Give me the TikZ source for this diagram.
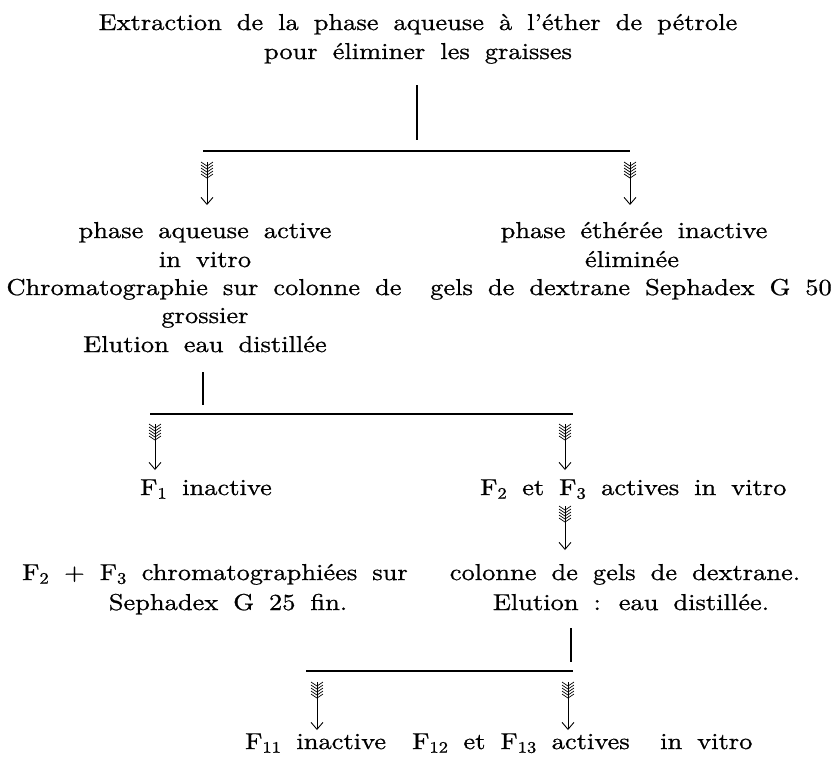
\documentclass[tikz,border=0pt]{standalone}
\usepackage{fontspec}
\setmainfont{lmroman10-regular.otf}[FakeStretch=1.15, WordSpace=1.7, FakeBold=0.8]
\usetikzlibrary{arrows.meta}
\tikzset{
  txt/.style={inner sep=0pt, font=\fontsize{23}{28}\selectfont},
  rulel/.style={line width=1.5pt},
  featherarrow/.style={line width=0.9pt, -{Straight Barb[length=7pt,width=12pt,line width=0.9pt]}},
  fletch/.pic={\foreach \k in {0,...,4}{\draw[line width=0.7pt] (-6,{\k*3}) -- (0,{\k*3+4}) -- (6,{\k*3});}}
}
\newcommand\farrow[2]{\pic at (#1) {fletch}; \draw[featherarrow] (#1) -- (#2);}
\begin{document}
\begin{tikzpicture}[x=1pt,y=-1pt]
\useasboundingbox (0,0) rectangle (834,756);
% texts
\node[txt, anchor=base] (t1) at (418,30) {Extraction de la phase aqueuse à l’éther de pétrole};
\node[txt, anchor=base] (t2) at (418,59) {pour éliminer les graisses};
\node[txt, anchor=base] (a1) at (205,238) {phase aqueuse active};
\node[txt, anchor=base] (a2) at (205,267) {in vitro};
\node[txt, anchor=base] (a3) at (204,295) {Chromatographie sur colonne de};
\node[txt, anchor=base] (a4) at (205,323) {grossier};
\node[txt, anchor=base] (a5) at (205,352) {Elution eau distillée};
\node[txt, anchor=base] (b1) at (634,238) {phase éthérée inactive};
\node[txt, anchor=base] (b2) at (632,267) {éliminée};
\node[txt, anchor=base] (b3) at (631,295) {gels de dextrane Sephadex G 50};
\node[txt, anchor=base west] (c1) at (140,495) {F\textsubscript{1} inactive};
\node[txt, anchor=base west] (c2) at (480,495) {F\textsubscript{2} et F\textsubscript{3} actives in vitro};
\node[txt, anchor=base east] (d1) at (408,580) {F\textsubscript{2} + F\textsubscript{3} chromatographiées sur};
\node[txt, anchor=base] (d2) at (228,610) {Sephadex G 25 fin.};
\node[txt, anchor=base] (e1) at (625,580) {colonne de gels de dextrane.};
\node[txt, anchor=base] (e2) at (631,610) {Elution : eau distillée.};
\node[txt, anchor=base west] (f1) at (245,749) {F\textsubscript{11} inactive};
\node[txt, anchor=base west] (f2) at (412,749) {F\textsubscript{12} et F\textsubscript{13} actives};
\node[txt, anchor=base west] (f3) at (660,749) {in vitro};
% junction coordinates
\coordinate (v1a) at (417,85);  \coordinate (v1b) at (417,140);
\coordinate (h1a) at (203,151); \coordinate (h1b) at (630,151);
\coordinate (p1) at (207,162);  \coordinate (q1) at (207,205);
\coordinate (p2) at (630,162);  \coordinate (q2) at (630,205);
\coordinate (v2a) at (203,372); \coordinate (v2b) at (203,405);
\coordinate (h2a) at (150,414); \coordinate (h2b) at (573,414);
\coordinate (p3) at (155,424);  \coordinate (q3) at (155,470);
\coordinate (p4) at (565,424);  \coordinate (q4) at (565,470);
\coordinate (p5) at (565,506);  \coordinate (q5) at (565,550);
\coordinate (v3a) at (571,628); \coordinate (v3b) at (571,662);
\coordinate (h3a) at (306,671); \coordinate (h3b) at (573,671);
\coordinate (p6) at (317,682);  \coordinate (q6) at (317,730);
\coordinate (p7) at (568,682);  \coordinate (q7) at (568,730);
% lines
\draw[rulel] (v1a) -- (v1b);
\draw[rulel] (h1a) -- (h1b);
\draw[rulel] (v2a) -- (v2b);
\draw[rulel] (h2a) -- (h2b);
\draw[rulel] (v3a) -- (v3b);
\draw[rulel] (h3a) -- (h3b);
% arrows
\farrow{p1}{q1}
\farrow{p2}{q2}
\farrow{p3}{q3}
\farrow{p4}{q4}
\farrow{p5}{q5}
\farrow{p6}{q6}
\farrow{p7}{q7}
\end{tikzpicture}
\end{document}
